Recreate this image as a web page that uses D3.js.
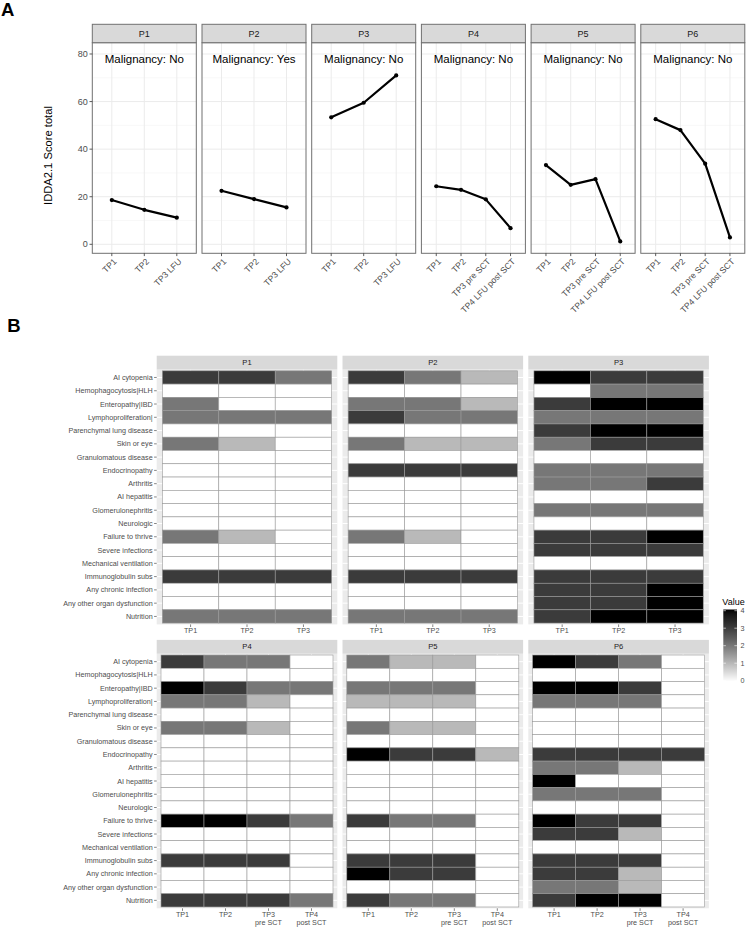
<!DOCTYPE html>
<html><head><meta charset="utf-8">
<script src="https://cdn.jsdelivr.net/npm/d3@7"></script>
<style>
body{margin:0;background:#fff}
svg{display:block;font-family:"Liberation Sans",Arial,Helvetica,sans-serif}
</style>
</head><body>
<svg id="c" width="746" height="927"></svg>
<script>
// ---------------- DATA ----------------
const patients = ["P1","P2","P3","P4","P5","P6"];
const malignancy = ["No","Yes","No","No","No","No"];
const tpLFU3 = ["TP1","TP2","TP3 LFU"];
const tpLFU4 = ["TP1","TP2","TP3 pre SCT","TP4 LFU post SCT"];
const scoreP1 = [18.6, 14.5, 11.2];
const scoreP2 = [22.5, 19.0, 15.5];
const scoreP3 = [53.4, 59.5, 71.0];
const scoreP4 = [24.4, 22.9, 18.9, 6.8];
const scoreP5 = [33.3, 25.0, 27.4, 1.2];
const scoreP6 = [52.6, 48.0, 33.9, 2.9];
const yTicksA = [0, 20, 40, 60, 80];
const yMinorA = [10, 30, 50, 70];

const conditions = ["AI cytopenia","Hemophagocytosis|HLH","Enteropathy|IBD","Lymphoproliferation|",
  "Parenchymal lung disease","Skin or eye","Granulomatous disease","Endocrinopathy","Arthritis",
  "AI hepatitis","Glomerulonephritis","Neurologic","Failure to thrive","Severe infections",
  "Mechanical ventilation","Immunoglobulin subs","Any chronic infection","Any other organ dysfunction","Nutrition"];
const heatTP3 = ["TP1","TP2","TP3"];
const heatTP4 = ["TP1","TP2","TP3\npre SCT","TP4\npost SCT"];
// rows follow `conditions`, columns follow timepoints
const heatP1 = [[3,3,2],[0,0,0],[2,0,0],[2,2,2],[0,0,0],[2,1,0],[0,0,0],[0,0,0],[0,0,0],[0,0,0],
  [0,0,0],[0,0,0],[2,1,0],[0,0,0],[0,0,0],[3,3,3],[0,0,0],[0,0,0],[2,2,2]];
const heatP2 = [[3,2,1],[0,0,0],[2,2,1],[3,2,2],[0,0,0],[2,1,1],[0,0,0],[3,3,3],[0,0,0],[0,0,0],
  [0,0,0],[0,0,0],[2,1,0],[0,0,0],[0,0,0],[3,3,3],[0,0,0],[0,0,0],[2,2,2]];
const heatP3 = [[4,3,3],[0,2,2],[3,4,4],[2,2,2],[3,4,4],[2,3,3],[0,0,0],[2,2,2],[2,2,3],[0,0,0],
  [2,2,2],[0,0,0],[3,3,4],[3,3,3],[0,0,0],[3,3,3],[3,3,4],[3,3,4],[3,4,4]];
const heatP4 = [[3,2,2,0],[0,0,0,0],[4,3,2,2],[2,2,1,0],[0,0,0,0],[2,2,1,0],[0,0,0,0],[0,0,0,0],
  [0,0,0,0],[0,0,0,0],[0,0,0,0],[0,0,0,0],[4,4,3,2],[0,0,0,0],[0,0,0,0],[3,3,3,0],[0,0,0,0],
  [0,0,0,0],[3,3,3,2]];
const heatP5 = [[2,1,1,0],[0,0,0,0],[2,2,2,0],[1,1,1,0],[0,0,0,0],[2,1,1,0],[0,0,0,0],[4,3,3,1],
  [0,0,0,0],[0,0,0,0],[0,0,0,0],[0,0,0,0],[3,2,2,0],[0,0,0,0],[0,0,0,0],[3,3,3,0],[4,3,3,0],
  [0,0,0,0],[3,2,2,0]];
const heatP6 = [[4,3,2,0],[0,0,0,0],[4,4,3,0],[2,2,2,0],[0,0,0,0],[0,0,0,0],[0,0,0,0],[3,3,3,3],
  [2,2,1,0],[4,0,0,0],[2,2,2,0],[0,0,0,0],[4,3,3,0],[3,3,1,0],[0,0,0,0],[3,3,3,0],[3,3,1,0],
  [2,2,1,0],[3,4,4,0]];
const legendTicks = [0,1,2,3,4];

// ---------------- DRAW ----------------
const svg = d3.select("#c");
const FONT_AXIS = "#4d4d4d";
const BORDER = "#707070";

const scores = [scoreP1, scoreP2, scoreP3, scoreP4, scoreP5, scoreP6];
const tpsA = [tpLFU3, tpLFU3, tpLFU3, tpLFU4, tpLFU4, tpLFU4];

// Panel labels
svg.append("text").attr("x", 1).attr("y", 16).attr("font-size", 18.5).attr("font-weight", "bold").text("A");
svg.append("text").attr("x", 7.2).attr("y", 332.3).attr("font-size", 18.5).attr("font-weight", "bold").text("B");

// ---- Panel A ----
const A = {stripTop: 24.3, top: 42.7, bottom: 253.3, left: 92.3, w: 104, gap: 5.7};
const yA = d3.scaleLinear().domain([-3.78, 84.75]).range([A.bottom, A.top]);

patients.forEach((p, i) => {
  const x0 = A.left + i * (A.w + A.gap);
  const g = svg.append("g");
  const x = d3.scalePoint().domain(tpsA[i]).range([x0, x0 + A.w]).padding(0.6);
  g.append("rect").attr("x", x0).attr("y", A.top).attr("width", A.w).attr("height", A.bottom - A.top).attr("fill", "#fff");
  // grid
  g.selectAll(".mn").data(yMinorA).join("line")
    .attr("x1", x0).attr("x2", x0 + A.w).attr("y1", d => yA(d)).attr("y2", d => yA(d))
    .attr("stroke", "#f3f3f3").attr("stroke-width", 0.6);
  g.selectAll(".mj").data(yTicksA).join("line")
    .attr("x1", x0).attr("x2", x0 + A.w).attr("y1", d => yA(d)).attr("y2", d => yA(d))
    .attr("stroke", "#ebebeb").attr("stroke-width", 1);
  g.selectAll(".vx").data(tpsA[i]).join("line")
    .attr("x1", d => x(d)).attr("x2", d => x(d)).attr("y1", A.top).attr("y2", A.bottom)
    .attr("stroke", "#ebebeb").attr("stroke-width", 1);
  // annotation
  g.append("text").attr("x", x0 + A.w / 2).attr("y", 59).attr("dy", "0.35em")
    .attr("text-anchor", "middle").attr("font-size", 11.5).attr("fill", "#000")
    .text("Malignancy: " + malignancy[i]);
  // line + points
  const pts = scores[i].map((v, j) => [x(tpsA[i][j]), yA(v)]);
  g.append("path").attr("d", d3.line()(pts)).attr("fill", "none").attr("stroke", "#000").attr("stroke-width", 2.2).attr("stroke-linejoin", "round");
  g.selectAll("circle").data(pts).join("circle").attr("cx", d => d[0]).attr("cy", d => d[1]).attr("r", 2.1).attr("fill", "#000");
  // border
  g.append("rect").attr("x", x0).attr("y", A.top).attr("width", A.w).attr("height", A.bottom - A.top)
    .attr("fill", "none").attr("stroke", BORDER).attr("stroke-width", 1);
  // strip
  g.append("rect").attr("x", x0).attr("y", A.stripTop).attr("width", A.w).attr("height", A.top - A.stripTop)
    .attr("fill", "#d9d9d9").attr("stroke", BORDER).attr("stroke-width", 1);
  g.append("text").attr("x", x0 + A.w / 2).attr("y", (A.stripTop + A.top) / 2).attr("dy", "0.35em")
    .attr("text-anchor", "middle").attr("font-size", 9).attr("fill", "#1a1a1a").text(p);
  // x axis
  tpsA[i].forEach(t => {
    g.append("line").attr("x1", x(t)).attr("x2", x(t)).attr("y1", A.bottom).attr("y2", A.bottom + 2.8).attr("stroke", "#333").attr("stroke-width", 0.8);
    g.append("text").attr("transform", `translate(${x(t) + 1},${A.bottom + 4.5}) rotate(-45)`)
      .attr("text-anchor", "end").attr("dy", "0.7em").attr("font-size", 8.6).attr("fill", FONT_AXIS).text(t);
  });
  // y axis
  if (i === 0) {
    yTicksA.forEach(v => {
      g.append("line").attr("x1", x0 - 2.8).attr("x2", x0).attr("y1", yA(v)).attr("y2", yA(v)).attr("stroke", "#333").attr("stroke-width", 0.8);
      g.append("text").attr("x", x0 - 4.5).attr("y", yA(v)).attr("dy", "0.35em").attr("text-anchor", "end")
        .attr("font-size", 9).attr("fill", FONT_AXIS).text(v);
    });
  }
});
svg.append("text").attr("transform", `translate(52,155.5) rotate(-90)`).attr("text-anchor", "middle")
  .attr("font-size", 11.2).attr("fill", "#000").text("IDDA2.1 Score total");

// ---- Panel B ----
const heats = [heatP1, heatP2, heatP3, heatP4, heatP5, heatP6];
const tpsB = [heatTP3, heatTP3, heatTP3, heatTP4, heatTP4, heatTP4];
const color = d3.scaleLinear().domain([0, 4]).range(["#ffffff", "#000000"]).interpolate(d3.interpolateLab);
const B = {left: 156.7, w: 180.6, gap: 5.2, stripH: 13.8,
  rows: [{stripTop: 355.7, top: 369.5, bottom: 624.4}, {stripTop: 639.9, top: 653.7, bottom: 908.3}]};

patients.forEach((p, i) => {
  const r = B.rows[Math.floor(i / 3)];
  const col = i % 3;
  const x0 = B.left + col * (B.w + B.gap);
  const g = svg.append("g");
  const x = d3.scaleBand().domain(d3.range(tpsB[i].length)).range([x0, x0 + B.w]).paddingInner(0).paddingOuter(0.1);
  const y = d3.scaleBand().domain(conditions).range([r.top, r.bottom]).paddingInner(0).paddingOuter(0.1);
  g.append("rect").attr("x", x0).attr("y", r.top).attr("width", B.w).attr("height", r.bottom - r.top).attr("fill", "#ebebeb");
  g.selectAll(".gh").data(conditions).join("line")
    .attr("x1", x0).attr("x2", x0 + B.w).attr("y1", d => y(d) + y.bandwidth() / 2).attr("y2", d => y(d) + y.bandwidth() / 2)
    .attr("stroke", "#fff").attr("stroke-width", 1);
  g.selectAll(".gv").data(d3.range(tpsB[i].length)).join("line")
    .attr("x1", d => x(d) + x.bandwidth() / 2).attr("x2", d => x(d) + x.bandwidth() / 2).attr("y1", r.top).attr("y2", r.bottom)
    .attr("stroke", "#fff").attr("stroke-width", 1);
  // tiles
  const cells = [];
  heats[i].forEach((row, ri) => row.forEach((v, ci) => cells.push({c: conditions[ri], t: ci, v})));
  g.selectAll(".tile").data(cells).join("rect")
    .attr("x", d => x(d.t)).attr("y", d => y(d.c)).attr("width", x.bandwidth()).attr("height", y.bandwidth())
    .attr("fill", d => color(d.v)).attr("stroke", "#9a9a9a").attr("stroke-width", 0.6);
  // strip
  g.append("rect").attr("x", x0).attr("y", r.stripTop).attr("width", B.w).attr("height", B.stripH).attr("fill", "#d9d9d9");
  g.append("text").attr("x", x0 + B.w / 2).attr("y", r.stripTop + B.stripH / 2).attr("dy", "0.35em")
    .attr("text-anchor", "middle").attr("font-size", 7.6).attr("fill", "#1a1a1a").text(p);
  // x axis
  tpsB[i].forEach((t, ti) => {
    const cx = x(ti) + x.bandwidth() / 2;
    g.append("line").attr("x1", cx).attr("x2", cx).attr("y1", r.bottom).attr("y2", r.bottom + 2.6).attr("stroke", "#333").attr("stroke-width", 0.6);
    const tx = g.append("text").attr("x", cx).attr("y", r.bottom + 9).attr("text-anchor", "middle").attr("font-size", 7.2).attr("fill", FONT_AXIS);
    t.split("\n").forEach((ln, li) => tx.append("tspan").attr("x", cx).attr("dy", li ? 7.3 : 0).text(ln));
  });
  // y axis
  if (col === 0) {
    conditions.forEach(c => {
      const cy = y(c) + y.bandwidth() / 2;
      g.append("line").attr("x1", x0 - 2.6).attr("x2", x0).attr("y1", cy).attr("y2", cy).attr("stroke", "#333").attr("stroke-width", 0.6);
      g.append("text").attr("x", x0 - 4).attr("y", cy).attr("dy", "0.35em").attr("text-anchor", "end")
        .attr("font-size", 7.2).attr("fill", FONT_AXIS).text(c);
    });
  }
});

// ---- Legend ----
const defs = svg.append("defs");
const grad = defs.append("linearGradient").attr("id", "lg").attr("x1", 0).attr("x2", 0).attr("y1", 1).attr("y2", 0);
d3.range(0, 4.01, 0.25).forEach(v => grad.append("stop").attr("offset", v / 4).attr("stop-color", color(v)));
const L = {x: 723.3, top: 609.5, bottom: 681.5, w: 13.7};
const yL = d3.scaleLinear().domain([0, 4]).range([680.7, 610.7]);
svg.append("text").attr("x", 722.3).attr("y", 605).attr("font-size", 9).attr("fill", "#000").text("Value");
svg.append("rect").attr("x", L.x).attr("y", L.top).attr("width", L.w).attr("height", L.bottom - L.top).attr("fill", "url(#lg)");
legendTicks.forEach(v => {
  svg.append("line").attr("x1", L.x).attr("x2", L.x + 2.6).attr("y1", yL(v)).attr("y2", yL(v)).attr("stroke", "#fff").attr("stroke-width", 0.6);
  svg.append("line").attr("x1", L.x + L.w - 2.6).attr("x2", L.x + L.w).attr("y1", yL(v)).attr("y2", yL(v)).attr("stroke", "#fff").attr("stroke-width", 0.6);
  svg.append("text").attr("x", 740.5).attr("y", yL(v)).attr("dy", "0.35em").attr("font-size", 7.2).attr("fill", FONT_AXIS).text(v);
});
</script>
</body></html>
